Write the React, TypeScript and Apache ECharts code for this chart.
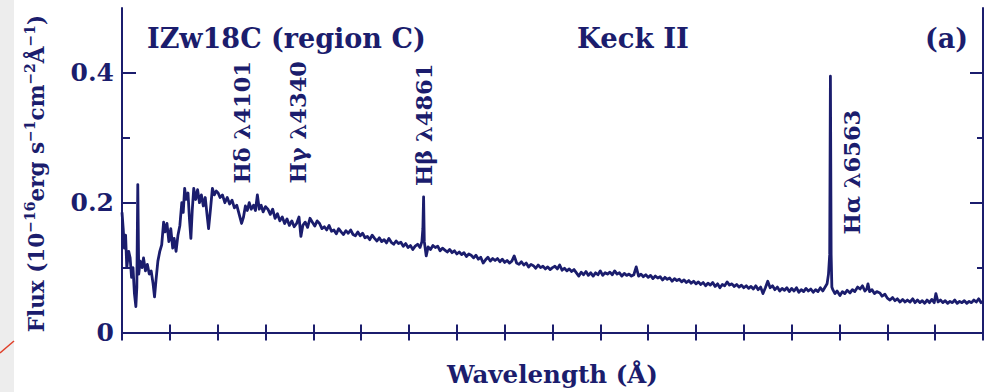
import React, { useEffect, useRef } from "react";
import * as echarts from "echarts";

// Wavelength (Å) and flux (10^-16 erg s^-1 cm^-2 Å^-1)
const wavelengths = [
  3600, 3605, 3610, 3615, 3620, 3628, 3634, 3640, 3646, 3652, 3658, 3662, 3666, 3670, 3676, 3684, 3690, 3698, 3706, 3714,
  3722, 3730, 3736, 3742, 3750, 3758, 3766, 3774, 3780, 3788, 3796, 3804, 3812, 3818, 3826, 3834, 3842, 3850, 3856, 3862,
  3868, 3876, 3882, 3888, 3894, 3900, 3908, 3916, 3924, 3932, 3940, 3948, 3956, 3962, 3970, 3978, 3986, 3994, 4002, 4010,
  4020, 4030, 4040, 4050, 4060, 4070, 4080, 4090, 4100, 4108, 4116, 4124, 4132, 4140, 4150, 4158, 4166, 4174, 4182, 4190,
  4200, 4210, 4220, 4230, 4240, 4250, 4260, 4270, 4280, 4290, 4300, 4310, 4320, 4330, 4340, 4348, 4356, 4366, 4376, 4386,
  4396, 4406, 4416, 4426, 4436, 4446, 4456, 4466, 4476, 4486, 4496, 4506, 4516, 4526, 4536, 4546, 4556, 4566, 4576, 4586,
  4596, 4606, 4616, 4626, 4636, 4646, 4656, 4666, 4676, 4686, 4696, 4706, 4716, 4726, 4736, 4746, 4756, 4766, 4776, 4786,
  4796, 4806, 4816, 4826, 4836, 4846, 4854, 4858, 4861, 4864, 4872, 4880, 4890, 4900, 4910, 4920, 4930, 4940, 4950, 4960,
  4970, 4980, 4990, 5000, 5010, 5020, 5030, 5040, 5050, 5060, 5070, 5080, 5090, 5100, 5110, 5120, 5130, 5140, 5150, 5160,
  5170, 5180, 5190, 5200, 5210, 5220, 5230, 5240, 5250, 5260, 5270, 5280, 5290, 5300, 5310, 5320, 5330, 5340, 5350, 5360,
  5370, 5380, 5390, 5400, 5410, 5420, 5430, 5440, 5450, 5460, 5470, 5480, 5490, 5500, 5510, 5520, 5530, 5540, 5550, 5560,
  5570, 5580, 5590, 5600, 5610, 5620, 5630, 5640, 5650, 5660, 5670, 5680, 5690, 5700, 5710, 5720, 5730, 5740, 5750, 5760,
  5770, 5780, 5790, 5800, 5810, 5820, 5830, 5840, 5850, 5860, 5870, 5880, 5890, 5900, 5910, 5920, 5930, 5940, 5950, 5960,
  5970, 5980, 5990, 6000, 6010, 6020, 6030, 6040, 6050, 6060, 6070, 6080, 6090, 6100, 6110, 6120, 6130, 6140, 6150, 6160,
  6170, 6180, 6190, 6200, 6210, 6220, 6230, 6240, 6250, 6260, 6270, 6280, 6290, 6300, 6310, 6320, 6330, 6340, 6350, 6360,
  6370, 6380, 6390, 6400, 6410, 6420, 6430, 6440, 6450, 6460, 6470, 6480, 6490, 6500, 6510, 6520, 6530, 6540, 6548, 6554,
  6559, 6562, 6565, 6568, 6572, 6581, 6590, 6602, 6612, 6622, 6632, 6644, 6654, 6664, 6676, 6686, 6696, 6706, 6714, 6719,
  6726, 6736, 6746, 6756, 6769, 6778, 6790, 6800, 6811, 6822, 6832, 6842, 6853, 6864, 6874, 6884, 6895, 6906, 6916, 6926,
  6936, 6946, 6956, 6966, 6976, 6986, 6996, 7003, 7012, 7022, 7032, 7042, 7052, 7062, 7072, 7082, 7092, 7102, 7112, 7122,
  7132, 7142, 7152, 7162, 7172, 7182, 7192, 7200,
];

const flux = [
  0.185, 0.16, 0.13, 0.15, 0.1, 0.125, 0.115, 0.085, 0.1, 0.06, 0.04, 0.07, 0.228, 0.09, 0.11, 0.1, 0.115, 0.095, 0.105, 0.09,
  0.095, 0.075, 0.055, 0.08, 0.11, 0.125, 0.135, 0.17, 0.155, 0.168, 0.14, 0.16, 0.13, 0.145, 0.125, 0.15, 0.165, 0.2, 0.185, 0.222,
  0.205, 0.215, 0.175, 0.145, 0.19, 0.222, 0.205, 0.22, 0.2, 0.212, 0.195, 0.208, 0.18, 0.16, 0.19, 0.222, 0.212, 0.218, 0.215, 0.208,
  0.212, 0.2, 0.208, 0.198, 0.204, 0.192, 0.196, 0.182, 0.168, 0.178, 0.195, 0.188, 0.2, 0.19, 0.196, 0.188, 0.212, 0.19, 0.196, 0.186,
  0.194, 0.19, 0.182, 0.19, 0.176, 0.183, 0.172, 0.178, 0.168, 0.175, 0.165, 0.172, 0.163, 0.168, 0.178, 0.148, 0.165, 0.17, 0.162, 0.176,
  0.17, 0.164, 0.172, 0.168, 0.16, 0.163, 0.158, 0.165, 0.156, 0.158, 0.152, 0.16, 0.155, 0.151, 0.157, 0.153, 0.158, 0.151, 0.149, 0.155,
  0.149, 0.153, 0.146, 0.148, 0.143, 0.15, 0.145, 0.141, 0.146, 0.14, 0.143, 0.138, 0.145, 0.139, 0.136, 0.141, 0.137, 0.139, 0.133, 0.137,
  0.131, 0.134, 0.128, 0.133, 0.136, 0.131, 0.14, 0.16, 0.209, 0.14, 0.118, 0.132, 0.128, 0.134, 0.131, 0.133, 0.126, 0.13, 0.127, 0.124,
  0.128, 0.123, 0.126, 0.121, 0.124, 0.12, 0.123, 0.117, 0.121, 0.119, 0.115, 0.119, 0.113, 0.116, 0.107, 0.112, 0.116, 0.11, 0.114, 0.111,
  0.114, 0.109, 0.113, 0.108, 0.111, 0.107, 0.11, 0.118, 0.107, 0.105, 0.109, 0.104, 0.107, 0.101, 0.105, 0.103, 0.099, 0.104, 0.1, 0.102,
  0.098, 0.101, 0.097, 0.1, 0.102, 0.098, 0.104, 0.096, 0.099, 0.095, 0.098, 0.094, 0.097, 0.092, 0.087, 0.093, 0.089, 0.094, 0.088, 0.092,
  0.087, 0.092, 0.089, 0.095, 0.088, 0.092, 0.09, 0.093, 0.089, 0.095, 0.09, 0.092, 0.087, 0.091, 0.088, 0.09, 0.087, 0.089, 0.101, 0.087,
  0.09, 0.086, 0.089, 0.085, 0.088, 0.083, 0.087, 0.084, 0.086, 0.081, 0.085, 0.082, 0.084, 0.079, 0.083, 0.08, 0.082, 0.078, 0.081, 0.077,
  0.08, 0.076, 0.079, 0.075, 0.078, 0.074, 0.077, 0.072, 0.076, 0.073, 0.077, 0.071, 0.075, 0.069, 0.074, 0.072, 0.078, 0.073, 0.075, 0.071,
  0.074, 0.07, 0.073, 0.069, 0.072, 0.068, 0.071, 0.067, 0.072, 0.066, 0.07, 0.06, 0.069, 0.079, 0.069, 0.072, 0.066, 0.07, 0.064, 0.068,
  0.065, 0.069, 0.063, 0.068, 0.064, 0.069, 0.062, 0.066, 0.063, 0.068, 0.064, 0.067, 0.062, 0.066, 0.063, 0.069, 0.064, 0.07, 0.075, 0.09,
  0.12, 0.395, 0.12, 0.07, 0.066, 0.06, 0.064, 0.057, 0.063, 0.06, 0.065, 0.061, 0.066, 0.063, 0.07, 0.067, 0.072, 0.064, 0.067, 0.075,
  0.063, 0.066, 0.06, 0.063, 0.061, 0.056, 0.059, 0.053, 0.05, 0.054, 0.049, 0.052, 0.047, 0.051, 0.047, 0.05, 0.047, 0.052, 0.046, 0.05,
  0.046, 0.049, 0.045, 0.05, 0.046, 0.051, 0.046, 0.06, 0.047, 0.05, 0.046, 0.049, 0.045, 0.048, 0.046, 0.05, 0.045, 0.048, 0.046, 0.049,
  0.045, 0.048, 0.046, 0.05, 0.047, 0.052, 0.046, 0.048,
];

const yMajorTicks = [0, 0.2, 0.4];
const yMinorTicks = [0.1, 0.3];
const lineNames = ["Hδ λ4101", "Hγ λ4340", "Hβ λ4861", "Hα λ6563"];
const lineLabelAt = [
  [4102, 0.324],
  [4336, 0.324],
  [4863, 0.32],
  [6652, 0.247],
];

const NAVY = "#1b1d6d";
const FONT = "DejaVu Serif";

export default function App() {
  const ref = useRef<HTMLDivElement>(null);

  useEffect(() => {
    if (!ref.current) return;
    const chart = echarts.init(ref.current, undefined, { renderer: "svg" });
    const spectrum = wavelengths.map((w, i) => [w, flux[i]]);

    const xBase = {
      type: "value" as const,
      min: 3600,
      max: 7200,
      interval: 200,
      axisLine: { show: true, lineStyle: { color: NAVY, width: 2 } },
      axisTick: { show: true, inside: true, length: 8, lineStyle: { color: NAVY, width: 2 } },
      axisLabel: { show: false },
      splitLine: { show: false },
    };
    const yBase = {
      type: "value" as const,
      min: -0.01,
      max: 0.5,
      splitLine: { show: false },
    };

    chart.setOption({
      animation: false,
      backgroundColor: "#ffffff",
      grid: { left: 122, right: 4, top: 8, bottom: 53, containLabel: false },
      xAxis: [
        {
          ...xBase,
          position: "bottom",
          name: "Wavelength (Å)",
          nameLocation: "middle",
          nameGap: 23,
          nameTextStyle: { color: NAVY, fontFamily: FONT, fontSize: 24.5, fontWeight: "bold" },
        },
        { ...xBase, position: "top" },
      ],
      yAxis: [
        {
          ...yBase,
          position: "left",
          axisLine: { show: true, lineStyle: { color: NAVY, width: 2 } },
          axisTick: { show: true, inside: true, length: 14, customValues: yMajorTicks, lineStyle: { color: NAVY, width: 2 } },
          axisLabel: {
            show: true,
            customValues: yMajorTicks,
            margin: 8,
            color: NAVY,
            fontFamily: FONT,
            fontSize: 25,
            fontWeight: "bold",
            formatter: (v: number) => (v === 0 ? "0" : v.toFixed(1)),
          },
          name: "{b|Flux (10}{s|−16}{b|erg s}{s|−1}{b|cm}{s|−2}{b|Å}{s|−1}{b|)}",
          nameLocation: "middle",
          nameRotate: 90,
          nameGap: 73,
          nameTextStyle: {
            color: NAVY,
            fontFamily: FONT,
            rich: {
              b: { fontSize: 21.5, fontWeight: "bold", color: NAVY, fontFamily: FONT },
              s: { fontSize: 14, fontWeight: "bold", color: NAVY, fontFamily: FONT, padding: [0, 0, 12, 0] },
            },
          },
        },
        {
          ...yBase,
          position: "left",
          axisLine: { show: false },
          axisTick: { show: true, inside: true, length: 8, customValues: yMinorTicks, lineStyle: { color: NAVY, width: 2 } },
          axisLabel: { show: false },
        },
        {
          ...yBase,
          position: "right",
          axisLine: { show: true, lineStyle: { color: NAVY, width: 2 } },
          axisTick: { show: true, inside: true, length: 13, customValues: yMajorTicks, lineStyle: { color: NAVY, width: 2 } },
          axisLabel: { show: false },
        },
        {
          ...yBase,
          position: "right",
          axisLine: { show: false },
          axisTick: { show: true, inside: true, length: 6, customValues: yMinorTicks, lineStyle: { color: NAVY, width: 2 } },
          axisLabel: { show: false },
        },
      ],
      series: [
        {
          type: "line",
          name: "IZw18C",
          data: spectrum,
          xAxisIndex: 0,
          yAxisIndex: 0,
          showSymbol: false,
          symbol: "none",
          lineStyle: { color: NAVY, width: 2.8, join: "round" },
          z: 3,
        },
        {
          type: "scatter",
          name: "lines",
          xAxisIndex: 0,
          yAxisIndex: 0,
          symbolSize: 1,
          itemStyle: { color: "rgba(0,0,0,0)" },
          data: lineNames.map((n, i) => ({ name: n, value: lineLabelAt[i] })),
          label: {
            show: true,
            position: "inside",
            rotate: 90,
            formatter: "{b}",
            color: NAVY,
            fontFamily: FONT,
            fontSize: 22.5,
            fontWeight: "bold",
            textBorderWidth: 0,
            opacity: 1,
          },
          emphasis: { disabled: true },
          z: 4,
        },
      ],
      graphic: [
        { type: "rect", z: -10, shape: { x: 0, y: 0, width: 14, height: 392 }, style: { fill: "#ededed" } },
        { type: "line", z: 10, shape: { x1: 0, y1: 353, x2: 14, y2: 341 }, style: { stroke: "#e0402a", lineWidth: 1.5 } },
        {
          type: "text",
          x: 147,
          y: 38,
          style: { text: "IZw18C (region C)", fill: NAVY, font: `bold 27px "${FONT}"`, align: "left", verticalAlign: "middle" },
        },
        {
          type: "text",
          x: 577,
          y: 38,
          style: { text: "Keck II", fill: NAVY, font: `bold 27.5px "${FONT}"`, align: "left", verticalAlign: "middle" },
        },
        {
          type: "text",
          x: 968,
          y: 38,
          style: { text: "(a)", fill: NAVY, font: `bold 27px "${FONT}"`, align: "right", verticalAlign: "middle" },
        },
      ],
    });

    return () => chart.dispose();
  }, []);

  return <div ref={ref} style={{ position: "absolute", left: 0, top: 0, width: 987, height: 392 }} />;
}
